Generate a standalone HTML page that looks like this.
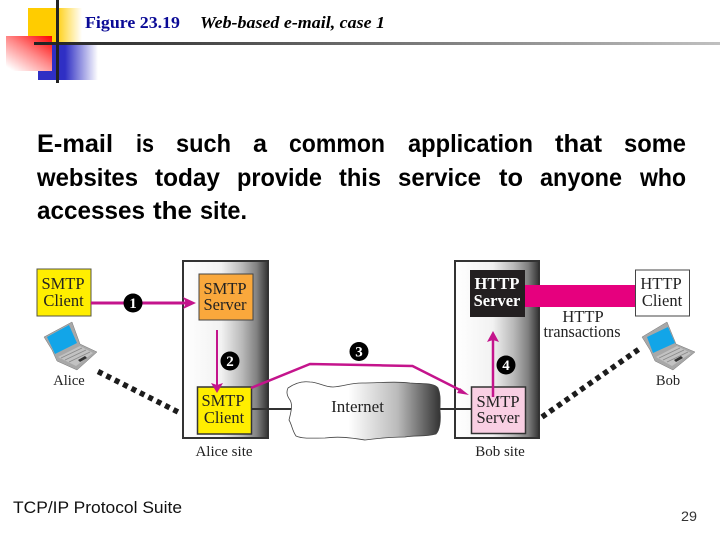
<!DOCTYPE html>
<html><head><meta charset="utf-8"><style>
html,body{margin:0;padding:0;background:#fff;width:720px;height:540px;overflow:hidden}
svg{display:block}
.b{font-family:"Liberation Sans",sans-serif;font-size:25px;font-weight:bold;fill:#000}
.d{font-family:"Liberation Serif",serif;font-size:16.500px;fill:#222}
.f{font-family:"Liberation Sans",sans-serif;fill:#111}
.soft{filter:blur(.35px)}
</style></head><body>
<svg width="720" height="540" viewBox="0 0 720 540" xmlns="http://www.w3.org/2000/svg">
<defs>
<linearGradient id="y"><stop offset="0" stop-color="#fc0"/><stop offset=".5" stop-color="#fc0"/><stop offset="1" stop-color="#fff"/></linearGradient>
<linearGradient id="bl"><stop offset="0" stop-color="#2f2fc4"/><stop offset=".45" stop-color="#2f2fc4"/><stop offset="1" stop-color="#fff"/></linearGradient>
<linearGradient id="r" x1="1" y1="0" x2=".15" y2="1"><stop offset="0" stop-color="#f00"/><stop offset=".5" stop-color="#f88"/><stop offset="1" stop-color="#fff"/></linearGradient>
<linearGradient id="hl"><stop offset="0" stop-color="#222"/><stop offset="1" stop-color="#c0c0c0"/></linearGradient>
<linearGradient id="site"><stop offset="0" stop-color="#fff"/><stop offset=".45" stop-color="#f2f2f2"/><stop offset=".7" stop-color="#b8b8b8"/><stop offset=".87" stop-color="#808080"/><stop offset="1" stop-color="#333"/></linearGradient>
<linearGradient id="cl"><stop offset="0" stop-color="#fff"/><stop offset=".4" stop-color="#fff"/><stop offset=".72" stop-color="#bbb"/><stop offset="1" stop-color="#333"/></linearGradient>
</defs>

<!-- header ornament -->
<rect x="28" y="8" width="54" height="36" fill="url(#y)"/>
<rect x="38" y="45" width="60" height="35" fill="url(#bl)"/>
<rect x="6" y="36" width="46" height="35" fill="url(#r)"/>
<rect x="34" y="42" width="686" height="3" fill="url(#hl)"/>
<rect x="56" y="0" width="3" height="83" fill="#222"/>
<text x="85" y="28" font-family="Liberation Serif,serif" font-size="17" font-weight="bold" fill="#0a0a96" textLength="95" lengthAdjust="spacingAndGlyphs">Figure 23.19</text>
<text x="200" y="28" font-family="Liberation Serif,serif" font-size="17" font-weight="bold" font-style="italic" fill="#000" textLength="185" lengthAdjust="spacingAndGlyphs">Web-based e-mail, case 1</text>

<!-- body text -->
<g>
<text class="b" x="37" y="152" textLength="76" lengthAdjust="spacingAndGlyphs">E-mail</text><text class="b" x="136" y="152" textLength="18" lengthAdjust="spacingAndGlyphs">is</text><text class="b" x="176" y="152" textLength="55" lengthAdjust="spacingAndGlyphs">such</text><text class="b" x="253" y="152" textLength="14" lengthAdjust="spacingAndGlyphs">a</text><text class="b" x="289" y="152" textLength="96" lengthAdjust="spacingAndGlyphs">common</text><text class="b" x="408" y="152" textLength="125" lengthAdjust="spacingAndGlyphs">application</text><text class="b" x="555" y="152" textLength="47" lengthAdjust="spacingAndGlyphs">that</text><text class="b" x="624" y="152" textLength="62" lengthAdjust="spacingAndGlyphs">some</text>
<text class="b" x="37" y="186" textLength="101" lengthAdjust="spacingAndGlyphs">websites</text><text class="b" x="155" y="186" textLength="65" lengthAdjust="spacingAndGlyphs">today</text><text class="b" x="237" y="186" textLength="85" lengthAdjust="spacingAndGlyphs">provide</text><text class="b" x="339" y="186" textLength="42" lengthAdjust="spacingAndGlyphs">this</text><text class="b" x="398" y="186" textLength="83" lengthAdjust="spacingAndGlyphs">service</text><text class="b" x="499" y="186" textLength="24" lengthAdjust="spacingAndGlyphs">to</text><text class="b" x="540" y="186" textLength="82" lengthAdjust="spacingAndGlyphs">anyone</text><text class="b" x="640" y="186" textLength="46" lengthAdjust="spacingAndGlyphs">who</text>
<text class="b" x="37" y="219" textLength="108" lengthAdjust="spacingAndGlyphs">accesses</text><text class="b" x="153" y="219" textLength="39" lengthAdjust="spacingAndGlyphs">the</text><text class="b" x="200" y="219" textLength="47" lengthAdjust="spacingAndGlyphs">site.</text>
</g>

<g class="soft">
<!-- site boxes -->
<rect x="183" y="261" width="85" height="177" fill="url(#site)" stroke="#333" stroke-width="2"/>
<rect x="455" y="261" width="84" height="177" fill="url(#site)" stroke="#333" stroke-width="2"/>

<!-- internet -->
<rect x="252" y="408" width="40" height="2" fill="#333"/>
<rect x="438" y="408" width="34" height="2" fill="#333"/>
<path d="M288 388 C295 383 303 381 310 382 C318 382 324 387 333 387 C345 386 350 383 362 383 C380 383 395 381 410 383 C425 384 434 383 438 388 C441 395 440 402 440 410 C441 420 440 430 436 434 C425 437 415 435 405 437 C392 437 380 438 365 440 C352 438 340 436 325 438 C312 438 303 439 296 436 C292 430 292 425 289 420 C291 412 293 405 290 400 C287 396 286 392 288 388 Z" fill="url(#cl)" stroke="#444" stroke-width=".8"/>
<text class="d" x="357.500" y="412" text-anchor="middle" style="font-size:17px">Internet</text>

<!-- boxes -->
<rect x="37" y="269" width="54" height="47" fill="#ffee00" stroke="#554" stroke-width="1"/>
<rect x="199" y="274" width="54" height="46" fill="#f9a83c" stroke="#444" stroke-width="1"/>
<rect x="197.500" y="387" width="54" height="47" fill="#ffee00" stroke="#333" stroke-width="1.500"/>
<rect x="470" y="270" width="55" height="47" fill="#231f20"/>
<rect x="471.500" y="387" width="54" height="46.500" fill="#f9cfe3" stroke="#333" stroke-width="1.500"/>
<rect x="635.500" y="270" width="54" height="46" fill="#fff" stroke="#444" stroke-width="1"/>
<rect x="525" y="285" width="110" height="22" fill="#e6007e"/>

<text class="d" x="63" y="289" text-anchor="middle">SMTP</text><text class="d" x="63.500" y="306" text-anchor="middle">Client</text>
<text class="d" x="225" y="294" text-anchor="middle">SMTP</text><text class="d" x="225" y="310" text-anchor="middle">Server</text>
<text class="d" x="223" y="406" text-anchor="middle">SMTP</text><text class="d" x="224" y="423" text-anchor="middle">Client</text>
<text class="d" x="497" y="289" text-anchor="middle" style="fill:#fff;font-weight:bold">HTTP</text><text class="d" x="497" y="306" text-anchor="middle" style="fill:#fff;font-weight:bold">Server</text>
<text class="d" x="498" y="407" text-anchor="middle">SMTP</text><text class="d" x="498" y="423" text-anchor="middle">Server</text>
<text class="d" x="661" y="289" text-anchor="middle">HTTP</text><text class="d" x="662" y="306" text-anchor="middle">Client</text>
<text class="d" x="583" y="322" text-anchor="middle">HTTP</text>
<text class="d" x="582" y="337" text-anchor="middle" textLength="77" lengthAdjust="spacingAndGlyphs">transactions</text>
<text class="d" x="69" y="385" text-anchor="middle" style="font-size:14.500px">Alice</text>
<text class="d" x="668" y="385" text-anchor="middle" style="font-size:14.500px">Bob</text>
<text class="d" x="224" y="456" text-anchor="middle" style="font-size:15px">Alice site</text>
<text class="d" x="500" y="456" text-anchor="middle" style="font-size:15px">Bob site</text>

<!-- connectors -->
<g fill="none" stroke="#c4148c">
<path d="M91 303H190" stroke-width="3"/>
<path d="M217 330V388" stroke-width="2"/>
<path d="M251 388L310 364L412.500 366L462 391" stroke-width="2.500"/>
<path d="M493 397V335" stroke-width="2.500"/>
</g>
<g fill="#c4148c">
<path d="M196 303L183 297L186 303L183 309Z"/>
<path d="M217 393L211 383L217 385L223 383Z"/>
<path d="M469 395L457 393L460 388Z"/>
<path d="M493 331L487 342L493 340L499 342Z"/>
</g>
<g fill="#000">
<circle cx="133" cy="303" r="9.500"/><circle cx="230" cy="361" r="9.500"/><circle cx="359" cy="351.500" r="9.500"/><circle cx="506" cy="365" r="9.500"/>
</g>
<g font-family="Liberation Serif,serif" font-size="15" font-weight="bold" fill="#fff" text-anchor="middle">
<text x="133" y="308">1</text><text x="230" y="366">2</text><text x="359" y="356.500">3</text><text x="506" y="370">4</text>
</g>

<!-- dotted links -->
<path d="M98 371.500L181 413.500" stroke="#1c1c1c" stroke-width="5.500" stroke-dasharray="5 4.400" fill="none"/>
<path d="M542 417L642 347" stroke="#1c1c1c" stroke-width="5.500" stroke-dasharray="5 4.400" fill="none"/>

<!-- Alice laptop -->
<g>
<path d="M44 337L72 322L80 344L97 352L77 370L57 361L52 350Z" fill="#a8a8a8" stroke="#777" stroke-width=".5"/>
<path d="M47 337L69 325L77 343L55 354Z" fill="#12a5e8"/>
<path d="M58 357L80 346L93 353L76 366Z" fill="#c2c2c2"/>
<path d="M61 358L82 348M65 360L86 350M69 362L90 352" stroke="#8a8a8a" stroke-width=".8"/>
<path d="M78 360L85 356L87 358L80 362Z" fill="#333"/>
</g>
<!-- Bob laptop -->
<g>
<path d="M642 337L667 322L676 344L695 352L673 370L655 361L650 350Z" fill="#a8a8a8" stroke="#777" stroke-width=".5"/>
<path d="M647 337L668 327L675 343L653 353Z" fill="#12a5e8"/>
<path d="M656 357L677 346L691 353L672 366Z" fill="#c2c2c2"/>
<path d="M659 358L680 348M663 360L684 350M667 362L688 352" stroke="#8a8a8a" stroke-width=".8"/>
<path d="M674 360L681 356L683 358L676 362Z" fill="#333"/>
</g>
</g>

<!-- footer -->
<text class="f" x="13" y="513" font-size="16.500" textLength="169" lengthAdjust="spacingAndGlyphs">TCP/IP Protocol Suite</text>
<text class="f" x="681" y="521" font-size="13.500" style="fill:#333" textLength="16" lengthAdjust="spacingAndGlyphs">29</text>
</svg>
</body></html>
